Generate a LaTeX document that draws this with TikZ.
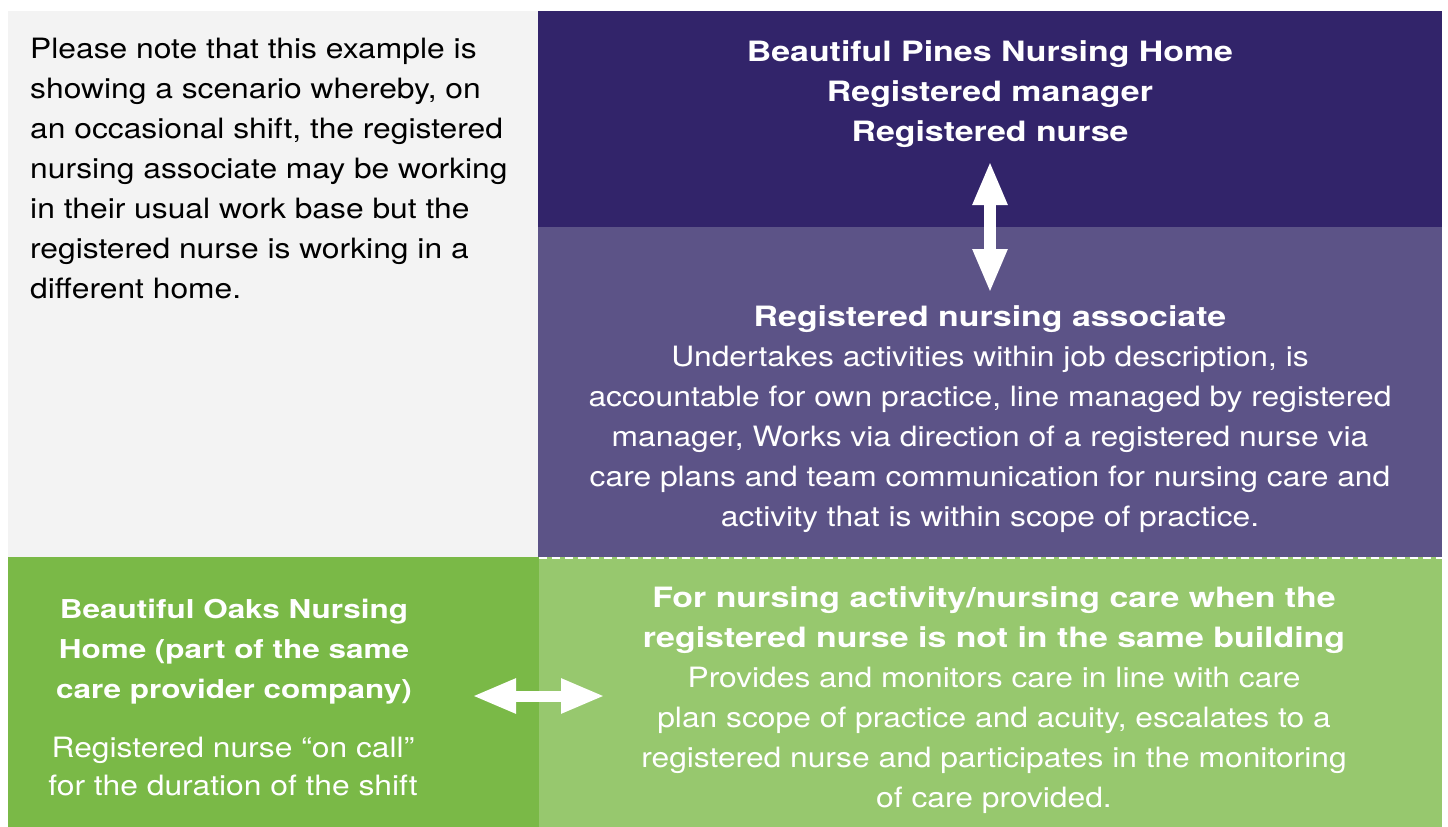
\documentclass[tikz,border=0pt]{standalone}
\usepackage{fontspec}
\setmainfont{TeX Gyre Heros}[UprightFeatures={FakeStretch=1.135}, BoldFeatures={FakeStretch=1.21}]
\usetikzlibrary{arrows.meta}
\definecolor{greybg}{HTML}{F3F3F3}
\definecolor{darkpurple}{HTML}{32246A}
\definecolor{midpurple}{HTML}{5C5387}
\definecolor{darkgreen}{HTML}{7AB947}
\definecolor{lightgreen}{HTML}{97C86E}
\begin{document}
\begin{tikzpicture}[x=1pt,y=-1pt,
  txt/.style={inner sep=0pt, font=\fontsize{28}{40}\selectfont, align=center, text=white},
  btxt/.style={txt, font=\fontsize{28}{40}\selectfont\bfseries},
  dbl/.style={draw=white, line width=#1, line cap=butt,
    {Triangle[length=44pt,width=32pt]}-{Triangle[length=44pt,width=32pt]}}]
\useasboundingbox (0,0) rectangle (1448,827);
\fill[white] (0,0) rectangle (1448,827);
\fill[greybg] (8,11) rectangle (538,557);
\fill[darkpurple] (538,11) rectangle (1442,227);
\fill[midpurple] (538,227) rectangle (1442,557);
\fill[darkgreen] (8,557) rectangle (539,827);
\fill[lightgreen] (539,557) rectangle (1442,827);
\coordinate (dl) at (539,557.5);
\coordinate (dr) at (1442,557.5);
\draw[white, line width=2pt, dash pattern=on 8pt off 5pt] (dl) -- (dr);

\node[txt, text=black, align=left, anchor=north west] (note) at (30,38)
  {Please note that this example is\\showing a scenario whereby, on\\an occasional shift, the registered\\nursing associate may be working\\in their usual work base but the\\registered nurse is working in a\\different home.};

\node[btxt, anchor=north] (pines) at (990,40)
  {Beautiful Pines Nursing Home\\Registered manager\\Registered nurse};

\node[txt, anchor=north] (rna) at (990,305)
  {\textbf{Registered nursing associate}\\Undertakes activities within job description, is\\accountable for own practice, line managed by registered\\manager, Works via direction of a registered nurse via\\care plans and team communication for nursing care and\\activity that is within scope of practice.};

\node[btxt, font=\fontsize{26}{40}\selectfont\bfseries, anchor=north] (oaks) at (234,598.5)
  {Beautiful Oaks Nursing\\Home (part of the same\\care provider company)};
\node[txt, font=\fontsize{28}{38}\selectfont, anchor=north] (oncall) at (233,736.5)
  {Registered nurse “on call”\\for the duration of the shift};

\node[txt, anchor=north] (care) at (994,586.5)
  {\textbf{For nursing activity/nursing care when the}\\\textbf{registered nurse is not in the same building}\\Provides and monitors care in line with care\\plan scope of practice and acuity, escalates to a\\registered nurse and participates in the monitoring\\of care provided.};

\coordinate (vt) at (990,161);
\coordinate (vb) at (990,293);
\draw[dbl=12pt] (vt) -- (vb);
\coordinate (hl) at (472,696);
\coordinate (hr) at (605,696);
\draw[dbl=11pt] (hl) -- (hr);
\end{tikzpicture}
\end{document}
